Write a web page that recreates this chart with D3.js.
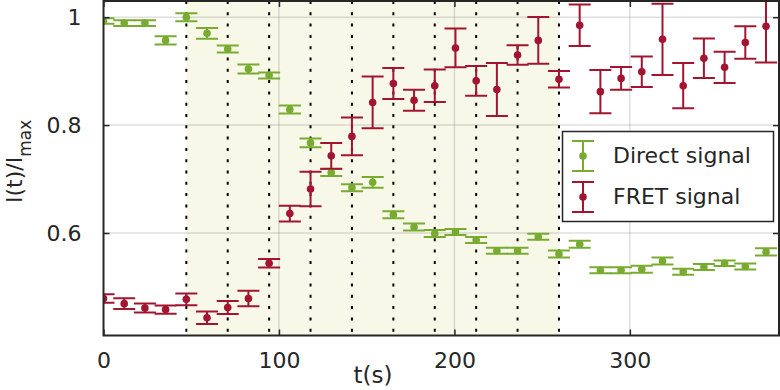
<!DOCTYPE html>
<html>
<head>
<meta charset="utf-8">
<script src="https://cdn.jsdelivr.net/npm/d3@7"></script>
<style>
  body { margin: 0; background: #fff; }
  text { font-family: "DejaVu Sans", Verdana, sans-serif; fill: #262626; }
</style>
</head>
<body>
<div id="chart"></div>
<script>
// measurement times (s)
const times = [0, 11.8, 23.6, 35.4, 47.2, 59, 70.8, 82.6, 94.4, 106.2, 118, 129.8, 141.6,
  153.4, 165.2, 177, 188.8, 200.6, 212.4, 224.2, 236, 247.8, 259.6, 271.4, 283.2, 295,
  306.8, 318.6, 330.4, 342.2, 354, 365.8, 377.6]

const directVal = [0.993, 0.989, 0.989, 0.957, 1.0, 0.970, 0.941, 0.904, 0.892, 0.829, 0.767,
  0.712, 0.684, 0.694, 0.634, 0.611, 0.599, 0.602, 0.587, 0.567, 0.567, 0.593, 0.561, 0.579,
  0.531, 0.531, 0.533, 0.548, 0.528, 0.537, 0.544, 0.538, 0.565]
const directErr = [0.005, 0.0055, 0.0055, 0.0075, 0.0075, 0.010, 0.0065, 0.0083, 0.0055, 0.0074,
  0.0083, 0.0065, 0.0065, 0.010, 0.0065, 0.0065, 0.0065, 0.0055, 0.0055, 0.0055, 0.0055, 0.0055,
  0.0065, 0.0065, 0.0055, 0.0055, 0.0065, 0.0065, 0.0055, 0.0055, 0.005, 0.0055, 0.0065]

const fretVal = [0.4785, 0.469, 0.461, 0.458, 0.477, 0.443, 0.462, 0.4785, 0.544, 0.636, 0.6815,
  0.743, 0.779, 0.842, 0.877, 0.846, 0.873, 0.943, 0.882, 0.866, 0.930, 0.957, 0.885, 0.985,
  0.862, 0.8865, 0.899, 0.959, 0.873, 0.924, 0.907, 0.953, 0.983]
const fretErr = [0.008, 0.010, 0.0083, 0.0077, 0.0108, 0.0117, 0.012, 0.0145, 0.008, 0.0145, 0.032,
  0.024, 0.035, 0.048, 0.0287, 0.0194, 0.030, 0.036, 0.0274, 0.049, 0.018, 0.0435, 0.0154, 0.0385,
  0.040, 0.021, 0.0283, 0.066, 0.042, 0.0365, 0.029, 0.030, 0.067]

// dotted marker lines (s)
const marks = [47.2, 70.8, 94.4, 118, 141.6, 165.2, 188.8, 212.4, 236, 259.6]

const xTicks = [0, 100, 200, 300]
const yTicks = [0.6, 0.8, 1]
const seriesNames = ["Direct signal", "FRET signal"]
const colors = ["#77ac30", "#a2142f"]

const W = 780, H = 390
const box = { left: 103.5, right: 779, top: 1, bottom: 335.5 }
const axisColor = "#262626"

const svg = d3.select("#chart").append("svg")
  .attr("width", W).attr("height", H)

const x = d3.scaleLinear().domain([0, 385]).range([box.left, box.right])
const y = d3.scaleLinear().domain([0.41, 1.03]).range([box.bottom, box.top])

// shaded interval
svg.append("rect")
  .attr("x", x(marks[0])).attr("y", box.top)
  .attr("width", x(marks[marks.length - 1]) - x(marks[0]))
  .attr("height", box.bottom - box.top)
  .attr("fill", "#f8f8e8")

// grid
const grid = svg.append("g").attr("stroke", axisColor).attr("stroke-opacity", 0.15).attr("stroke-width", 1.5)
grid.selectAll(".gx").data(xTicks.filter(d => d > 0)).join("line")
  .attr("x1", d => x(d)).attr("x2", d => x(d))
  .attr("y1", box.top).attr("y2", box.bottom)
grid.selectAll(".gy").data(yTicks).join("line")
  .attr("x1", box.left).attr("x2", box.right)
  .attr("y1", d => y(d)).attr("y2", d => y(d))

// dotted lines
svg.append("g").selectAll("line").data(marks).join("line")
  .attr("x1", d => x(d)).attr("x2", d => x(d))
  .attr("y1", box.top).attr("y2", box.bottom)
  .attr("stroke", "#000").attr("stroke-width", 2)
  .attr("stroke-dasharray", "3,8.3")

svg.append("clipPath").attr("id", "plotClip")
  .append("rect").attr("x", box.left).attr("y", box.top)
  .attr("width", box.right - box.left).attr("height", box.bottom - box.top)

const capHalf = 11

function drawSeries(vals, errs, color) {
  const rows = times.map((t, i) => ({ t: t, v: vals[i], e: errs[i] }))
  const g = svg.append("g").attr("clip-path", "url(#plotClip)")
    .attr("stroke", color).attr("stroke-width", 2)
  const pt = g.selectAll("g").data(rows).join("g")
  pt.append("line")
    .attr("x1", d => x(d.t)).attr("x2", d => x(d.t))
    .attr("y1", d => y(d.v - d.e)).attr("y2", d => y(d.v + d.e))
  pt.append("line")
    .attr("x1", d => x(d.t) - capHalf).attr("x2", d => x(d.t) + capHalf)
    .attr("y1", d => y(d.v - d.e)).attr("y2", d => y(d.v - d.e))
  pt.append("line")
    .attr("x1", d => x(d.t) - capHalf).attr("x2", d => x(d.t) + capHalf)
    .attr("y1", d => y(d.v + d.e)).attr("y2", d => y(d.v + d.e))
  pt.append("circle")
    .attr("cx", d => x(d.t)).attr("cy", d => y(d.v))
    .attr("r", 3.8).attr("fill", color).attr("stroke", "none")
}

drawSeries(directVal, directErr, colors[0])
drawSeries(fretVal, fretErr, colors[1])

// axes (ticks inward on all four sides)
function styleAxis(g) {
  g.select(".domain").remove()
  g.selectAll(".tick line").attr("stroke", axisColor).attr("stroke-width", 1.5)
  g.selectAll("text").style("font-size", "22px").style("fill", axisColor)
    .style("font-family", '"DejaVu Sans", Verdana, sans-serif')
}

svg.append("g").attr("transform", `translate(0, ${box.bottom})`)
  .call(d3.axisBottom(x).tickValues(xTicks).tickSize(-6).tickPadding(17).tickFormat(d3.format("d")))
  .call(styleAxis)
svg.append("g").attr("transform", `translate(0, ${box.top})`)
  .call(d3.axisTop(x).tickValues(xTicks).tickSize(-6).tickFormat(""))
  .call(styleAxis)
svg.append("g").attr("transform", `translate(${box.left}, 0)`)
  .call(d3.axisLeft(y).tickValues(yTicks).tickSize(-6).tickPadding(22).tickFormat(d => d3.format("~g")(d)))
  .call(styleAxis)
svg.append("g").attr("transform", `translate(${box.right}, 0)`)
  .call(d3.axisRight(y).tickValues(yTicks).tickSize(-6).tickFormat(""))
  .call(styleAxis)

svg.append("rect")
  .attr("x", box.left).attr("y", box.top)
  .attr("width", box.right - box.left).attr("height", box.bottom - box.top)
  .attr("fill", "none").attr("stroke", axisColor).attr("stroke-width", 2)

// axis labels
svg.append("text")
  .attr("x", 373).attr("y", 383)
  .attr("text-anchor", "middle")
  .style("font-size", "23px")
  .text("t(s)")

const yl = svg.append("text")
  .attr("transform", "translate(22, 203) rotate(-90)")
  .attr("text-anchor", "start")
  .style("font-size", "22px")
yl.append("tspan").text("I(t)/I")
yl.append("tspan").attr("dy", 9).style("font-size", "17px").text("max")

// legend
const legend = svg.append("g")
legend.append("rect")
  .attr("x", 562.5).attr("y", 131.5).attr("width", 211).attr("height", 90)
  .attr("fill", "#fff").attr("stroke", axisColor).attr("stroke-width", 1.5)

const entry = legend.selectAll(".entry").data(seriesNames).join("g")
  .attr("class", "entry")
  .attr("transform", (d, i) => `translate(583, ${156 + i * 41})`)
entry.append("line").attr("y1", -15).attr("y2", 15)
  .attr("stroke", (d, i) => colors[i]).attr("stroke-width", 2)
entry.append("line").attr("x1", -capHalf).attr("x2", capHalf).attr("y1", -15).attr("y2", -15)
  .attr("stroke", (d, i) => colors[i]).attr("stroke-width", 2)
entry.append("line").attr("x1", -capHalf).attr("x2", capHalf).attr("y1", 15).attr("y2", 15)
  .attr("stroke", (d, i) => colors[i]).attr("stroke-width", 2)
entry.append("circle").attr("r", 3.8).attr("fill", (d, i) => colors[i])
entry.append("text")
  .attr("x", 30).attr("y", 7)
  .style("font-size", "22px")
  .text(d => d)
</script>
</body>
</html>
